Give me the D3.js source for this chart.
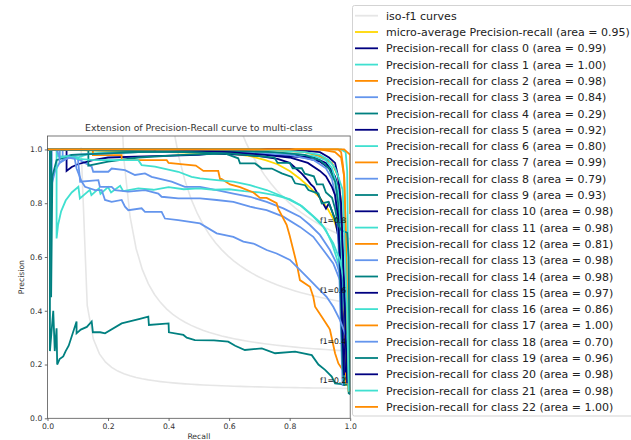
<!DOCTYPE html>
<html>
<head>
<meta charset="utf-8">
<script src="https://cdn.jsdelivr.net/npm/d3@7"></script>
<style>
  body { margin: 0; background: #fff; }
  text { font-family: "DejaVu Sans", sans-serif; }
</style>
</head>
<body>
<div id="chart"></div>
<script>
// PR curves, one small array per class: [recall, precision]
var classIds = d3.range(23);
var areas = [0.99, 1.00, 0.98, 0.84, 0.29, 0.92, 0.80, 0.99, 0.79, 0.93, 0.98, 0.98,
             0.81, 0.98, 0.98, 0.97, 0.86, 1.00, 0.70, 0.96, 0.98, 0.98, 1.00];
var microArea = 0.95;
var isoF1 = [0.2, 0.4, 0.6, 0.8];
var xTicks = [0, 0.2, 0.4, 0.6, 0.8, 1.0];
var yTicks = [0, 0.2, 0.4, 0.6, 0.8, 1.0];

var prMicro = [[0,1],[0.2,0.995],[0.4,0.99],[0.6,0.985],[0.67,0.975],[0.72,0.96],[0.76,0.945],[0.8,0.92],
  [0.835,0.89],[0.87,0.855],[0.9,0.82],[0.925,0.78],[0.945,0.74],[0.958,0.7],[0.968,0.64],[0.977,0.5],
  [0.985,0.3],[0.992,0.15],[1,0.1]];

var pr0 = [[0,1],[0.35,1],[0.36,0.99],[0.6,0.99],[0.75,0.98],[0.85,0.97],[0.9,0.955],[0.93,0.93],[0.95,0.9],
  [0.96,0.85],[0.97,0.7],[0.975,0.45],[0.98,0.2],[0.985,0.13]];
var pr1 = [[0,1],[0.97,1],[0.985,0.99],[0.99,0.92],[0.993,0.6],[0.997,0.3],[1,0.1]];
var pr2 = [[0,1],[0.7,1],[0.85,0.99],[0.9,0.975],[0.94,0.95],[0.96,0.9],[0.97,0.8],[0.975,0.6],[0.98,0.35],[0.985,0.12]];
var pr3 = [[0,1],[0.014,1],[0.014,0.87],[0.025,0.92],[0.04,0.95],[0.058,0.965],[0.08,0.97],[0.1,0.965],
  [0.146,0.936],[0.151,0.917],[0.201,0.917],[0.212,0.929],[0.256,0.923],[0.289,0.905],[0.322,0.911],
  [0.344,0.898],[0.41,0.88],[0.454,0.861],[0.504,0.861],[0.559,0.849],[0.614,0.836],[0.669,0.824],
  [0.724,0.805],[0.779,0.781],[0.834,0.75],[0.867,0.719],[0.9,0.682],[0.933,0.626],[0.955,0.576],
  [0.972,0.514],[0.988,0.415],[0.994,0.316],[0.997,0.27]];
var pr4 = [[0,1],[0.008,1],[0.008,0.25],[0.019,0.4],[0.024,0.25],[0.03,0.335],[0.032,0.2],[0.04,0.22],
  [0.052,0.23],[0.06,0.25],[0.07,0.27],[0.096,0.36],[0.096,0.316],[0.11,0.33],[0.13,0.34],[0.146,0.36],
  [0.15,0.32],[0.174,0.32],[0.19,0.316],[0.245,0.353],[0.305,0.37],[0.333,0.378],[0.335,0.347],[0.4,0.353],
  [0.401,0.32],[0.449,0.31],[0.46,0.3],[0.487,0.291],[0.55,0.29],[0.597,0.285],[0.62,0.27],[0.652,0.254],
  [0.708,0.26],[0.752,0.242],[0.818,0.248],[0.873,0.235],[0.895,0.2],[0.917,0.18],[0.939,0.155],
  [0.95,0.13],[0.994,0.124],[0.995,0.093],[1,0.09]];
var pr5 = [[0,1],[0.063,1],[0.063,0.92],[0.08,0.935],[0.1,0.945],[0.15,0.96],[0.2,0.97],[0.35,0.975],
  [0.5,0.98],[0.55,0.985],[0.65,0.98],[0.7,0.975],[0.76,0.965],[0.8,0.95],[0.82,0.93],[0.84,0.91],
  [0.86,0.885],[0.87,0.87],[0.88,0.86],[0.89,0.84],[0.9,0.82],[0.92,0.78],[0.93,0.8],[0.94,0.77],
  [0.95,0.74],[0.96,0.68],[0.97,0.55],[0.975,0.4],[0.98,0.25],[0.985,0.15]];
var pr6 = [[0,1],[0.03,1],[0.03,0.669],[0.035,0.72],[0.045,0.77],[0.06,0.81],[0.08,0.84],[0.102,0.861],
  [0.107,0.818],[0.14,0.85],[0.145,0.83],[0.17,0.855],[0.175,0.835],[0.2,0.86],[0.21,0.84],[0.24,0.865],
  [0.25,0.845],[0.3,0.855],[0.35,0.85],[0.4,0.86],[0.45,0.852],[0.5,0.855],[0.55,0.85],[0.6,0.852],
  [0.65,0.845],[0.7,0.84],[0.75,0.83],[0.8,0.815],[0.84,0.79],[0.87,0.76],[0.9,0.73],[0.92,0.7],
  [0.94,0.65],[0.96,0.58],[0.975,0.5],[0.985,0.35],[0.99,0.2]];
var pr7 = [[0,1],[0.9,1],[0.95,0.99],[0.97,0.97],[0.98,0.9],[0.985,0.7],[0.99,0.4],[0.995,0.1]];
var pr8 = [[0,1],[0.05,1],[0.05,0.96],[0.08,0.975],[0.1,0.97],[0.108,0.88],[0.168,0.886],[0.173,0.861],
  [0.212,0.861],[0.223,0.849],[0.267,0.843],[0.322,0.849],[0.366,0.836],[0.377,0.824],[0.432,0.818],
  [0.504,0.818],[0.559,0.812],[0.614,0.805],[0.669,0.787],[0.724,0.774],[0.779,0.75],[0.834,0.712],
  [0.878,0.675],[0.911,0.626],[0.944,0.576],[0.966,0.514],[0.983,0.415],[0.994,0.316],[0.997,0.25]];
var pr9 = [[0,1],[0.135,1],[0.135,0.94],[0.2,0.955],[0.3,0.97],[0.45,0.98],[0.586,0.985],[0.63,0.967],
  [0.636,0.948],[0.686,0.948],[0.708,0.929],[0.741,0.929],[0.774,0.911],[0.807,0.898],[0.818,0.874],
  [0.851,0.867],[0.862,0.849],[0.895,0.836],[0.906,0.799],[0.928,0.805],[0.939,0.774],[0.95,0.737],
  [0.961,0.725],[0.972,0.663],[0.98,0.45],[0.99,0.25],[0.995,0.12]];
var pr10 = [[0,1],[0.5,1],[0.7,0.99],[0.8,0.98],[0.88,0.97],[0.92,0.95],[0.94,0.92],[0.955,0.88],
  [0.965,0.8],[0.97,0.6],[0.975,0.3],[0.98,0.14]];
var pr11 = [[0,1],[0.03,1],[0.035,0.975],[0.1,0.97],[0.14,0.985],[0.3,0.99],[0.6,0.99],[0.8,0.985],
  [0.88,0.975],[0.92,0.96],[0.94,0.93],[0.95,0.89],[0.96,0.85],[0.965,0.75],[0.97,0.6],[0.975,0.3],[0.98,0.12]];
var pr12 = [[0,1],[0.15,1],[0.15,0.979],[0.245,0.979],[0.245,0.96],[0.394,0.96],[0.4,0.95],[0.44,0.945],
  [0.49,0.94],[0.515,0.92],[0.564,0.92],[0.57,0.89],[0.575,0.89],[0.603,0.87],[0.636,0.86],[0.68,0.84],
  [0.702,0.82],[0.724,0.82],[0.757,0.8],[0.762,0.78],[0.79,0.72],[0.8,0.68],[0.812,0.626],[0.823,0.576],
  [0.834,0.514],[0.867,0.489],[0.878,0.452],[0.884,0.415],[0.906,0.378],[0.928,0.34],[0.933,0.33],
  [0.95,0.242],[0.961,0.204],[0.983,0.167],[0.994,0.13],[1,0.1]];
var pr13 = [[0,1],[0.03,1],[0.04,0.97],[0.08,0.98],[0.3,0.99],[0.6,0.99],[0.8,0.98],[0.88,0.96],
  [0.92,0.93],[0.94,0.89],[0.95,0.83],[0.96,0.7],[0.965,0.5],[0.97,0.3],[0.975,0.12]];
var pr14 = [[0,1],[0.012,1],[0.012,0.45],[0.016,0.9],[0.03,0.96],[0.08,0.98],[0.3,0.99],[0.6,0.995],
  [0.75,0.99],[0.85,0.98],[0.9,0.96],[0.93,0.93],[0.95,0.88],[0.96,0.8],[0.965,0.6],[0.97,0.4],
  [0.975,0.2],[0.98,0.12]];
var pr15 = [[0,1],[0.4,1],[0.6,0.99],[0.72,0.98],[0.8,0.97],[0.86,0.95],[0.9,0.92],[0.92,0.9],[0.94,0.86],
  [0.95,0.83],[0.96,0.75],[0.97,0.5],[0.975,0.3],[0.98,0.16]];
var pr16 = [[0,1],[0.04,1],[0.04,0.97],[0.07,0.975],[0.1,0.965],[0.157,0.96],[0.3,0.96],[0.311,0.942],
  [0.355,0.936],[0.432,0.917],[0.476,0.898],[0.504,0.892],[0.559,0.886],[0.614,0.88],[0.669,0.867],
  [0.724,0.849],[0.779,0.824],[0.834,0.793],[0.878,0.75],[0.911,0.712],[0.944,0.651],[0.966,0.589],
  [0.983,0.49],[0.994,0.366],[0.997,0.24]];
var pr17 = [[0,1],[0.96,1],[0.97,0.99],[0.975,0.95],[0.98,0.9],[0.985,0.7],[0.99,0.4],[0.995,0.1]];
var pr18 = [[0,1],[0.04,1],[0.04,0.95],[0.07,0.97],[0.09,0.965],[0.096,0.929],[0.113,0.88],[0.124,0.861],
  [0.157,0.849],[0.179,0.849],[0.19,0.812],[0.212,0.805],[0.245,0.812],[0.256,0.787],[0.267,0.774],
  [0.311,0.781],[0.322,0.768],[0.377,0.768],[0.388,0.743],[0.432,0.737],[0.504,0.725],[0.559,0.688],
  [0.614,0.675],[0.647,0.657],[0.68,0.65],[0.724,0.626],[0.757,0.613],[0.801,0.589],[0.823,0.564],
  [0.856,0.527],[0.889,0.489],[0.922,0.452],[0.944,0.415],[0.966,0.366],[0.983,0.316],[0.994,0.28],[0.997,0.25]];
var pr19 = [[0,1],[0.45,0.99],[0.6,0.985],[0.75,0.97],[0.76,0.95],[0.8,0.95],[0.81,0.93],[0.84,0.93],
  [0.85,0.91],[0.88,0.9],[0.89,0.87],[0.91,0.87],[0.92,0.84],[0.94,0.82],[0.95,0.78],[0.96,0.72],
  [0.97,0.7],[0.99,0.69],[0.995,0.6],[0.997,0.3],[1,0.09]];
var pr20 = [[0,1],[0.8,1],[0.9,0.99],[0.93,0.97],[0.95,0.95],[0.96,0.9],[0.97,0.8],[0.98,0.5],[0.985,0.3],[0.99,0.13]];
var pr21 = [[0,1],[0.7,1],[0.85,0.99],[0.9,0.98],[0.93,0.96],[0.95,0.93],[0.96,0.9],[0.975,0.85],[0.98,0.7],[0.99,0.4],[0.995,0.1]];
var pr22 = [[0,1],[0.98,1],[0.99,0.99],[1,0.98],[1,0.76]];

var prCurves = [pr0, pr1, pr2, pr3, pr4, pr5, pr6, pr7, pr8, pr9, pr10, pr11, pr12, pr13, pr14,
                pr15, pr16, pr17, pr18, pr19, pr20, pr21, pr22];

// colour cycle used for the classes
var colors = ['navy', 'turquoise', 'darkorange', 'cornflowerblue', 'teal'];

var width = 631, height = 440;

var svg = d3.select('#chart')
  .append('svg')
  .attr('width', width)
  .attr('height', height);

var x = d3.scaleLinear().domain([0, 1]).range([47.5, 350.2]);
var y = d3.scaleLinear().domain([0, 1.05]).range([418.3, 136]);

svg.append('clipPath').attr('id', 'plotClip')
  .append('rect')
  .attr('x', x(0)).attr('y', y(1.05))
  .attr('width', x(1) - x(0)).attr('height', y(0) - y(1.05));

var line = d3.line()
  .x(function(d) { return x(d[0]); })
  .y(function(d) { return y(d[1]); });

var plot = svg.append('g').attr('clip-path', 'url(#plotClip)');

// iso-f1 curves
var isoX = d3.range(50).map(function(i) { return 0.01 + i * 0.99 / 49; });
isoF1.forEach(function(f) {
  var ys = isoX.map(function(v) { return f * v / (2 * v - f); });
  var pts = isoX.map(function(v, i) { return [v, ys[i]]; })
                .filter(function(d) { return d[1] >= 0; })
                .map(function(d) { return [d[0], Math.min(d[1], 3)]; });
  plot.append('path')
    .attr('d', line(pts))
    .attr('fill', 'none')
    .attr('stroke', 'gray')
    .attr('stroke-opacity', 0.2)
    .attr('stroke-width', 1.6);
  svg.append('text')
    .attr('x', x(0.9))
    .attr('y', y(ys[45] + 0.02))
    .attr('font-size', '7.7px')
    .attr('fill', '#111')
    .text('f1=' + f.toFixed(1));
});

// micro average
plot.append('path')
  .attr('d', line(prMicro))
  .attr('fill', 'none')
  .attr('stroke', 'gold')
  .attr('stroke-width', 1.8);

// one line per class
prCurves.forEach(function(pts, i) {
  plot.append('path')
    .attr('d', line(pts))
    .attr('fill', 'none')
    .attr('stroke', colors[i % colors.length])
    .attr('stroke-width', 1.8)
    .attr('stroke-linejoin', 'miter');
});

// axes
var xAxis = svg.append('g')
  .attr('transform', 'translate(0,' + y(0) + ')')
  .call(d3.axisBottom(x).tickValues(xTicks).tickFormat(d3.format('.1f')).tickSize(2.7).tickPadding(2.5));
var yAxis = svg.append('g')
  .attr('transform', 'translate(' + x(0) + ',0)')
  .call(d3.axisLeft(y).tickValues(yTicks).tickFormat(d3.format('.1f')).tickSize(2.7).tickPadding(2.5));

[xAxis, yAxis].forEach(function(a) {
  a.select('.domain').remove();
  a.selectAll('line').attr('stroke', '#444').attr('stroke-width', 0.8);
  a.selectAll('text').attr('font-size', '7.7px').attr('fill', '#333')
    .attr('font-family', '"DejaVu Sans", sans-serif');
});

svg.append('rect')
  .attr('x', x(0)).attr('y', y(1.05))
  .attr('width', x(1) - x(0)).attr('height', y(0) - y(1.05))
  .attr('fill', 'none')
  .attr('stroke', '#555')
  .attr('stroke-width', 0.8);

svg.append('text')
  .attr('x', (x(0) + x(1)) / 2)
  .attr('y', 131)
  .attr('text-anchor', 'middle')
  .attr('font-size', '9.3px')
  .attr('fill', '#333')
  .text('Extension of Precision-Recall curve to multi-class');

svg.append('text')
  .attr('x', (x(0) + x(1)) / 2)
  .attr('y', 439)
  .attr('text-anchor', 'middle')
  .attr('font-size', '7.7px')
  .attr('fill', '#333')
  .text('Recall');

svg.append('text')
  .attr('transform', 'translate(24,' + (y(0) + y(1.05)) / 2 + ') rotate(-90)')
  .attr('text-anchor', 'middle')
  .attr('font-size', '7.7px')
  .attr('fill', '#333')
  .text('Precision');

// legend
var legendItems = [{ label: 'iso-f1 curves', color: 'gray', opacity: 0.2 },
                   { label: 'micro-average Precision-recall (area = ' + microArea.toFixed(2) + ')', color: 'gold', opacity: 1 }];
classIds.forEach(function(c) {
  legendItems.push({ label: 'Precision-recall for class ' + c + ' (area = ' + areas[c].toFixed(2) + ')',
                     color: colors[c % colors.length], opacity: 1 });
});

var legend = svg.append('g');
legend.append('rect')
  .attr('x', 352.5).attr('y', 5.5)
  .attr('width', 300).attr('height', 410.5)
  .attr('rx', 2)
  .attr('fill', 'white')
  .attr('fill-opacity', 0.8)
  .attr('stroke', '#d3d3d3');

var rows = legend.selectAll('g.row')
  .data(legendItems)
  .enter()
  .append('g')
  .attr('class', 'row')
  .attr('transform', function(d, i) { return 'translate(0,' + (15.7 + i * 16.3) + ')'; });

rows.append('line')
  .attr('x1', 355).attr('x2', 378)
  .attr('stroke', function(d) { return d.color; })
  .attr('stroke-opacity', function(d) { return d.opacity; })
  .attr('stroke-width', 1.8);

rows.append('text')
  .attr('x', 386)
  .attr('y', 4)
  .attr('font-size', '11px')
  .attr('fill', '#222')
  .text(function(d) { return d.label; });
</script>
</body>
</html>
